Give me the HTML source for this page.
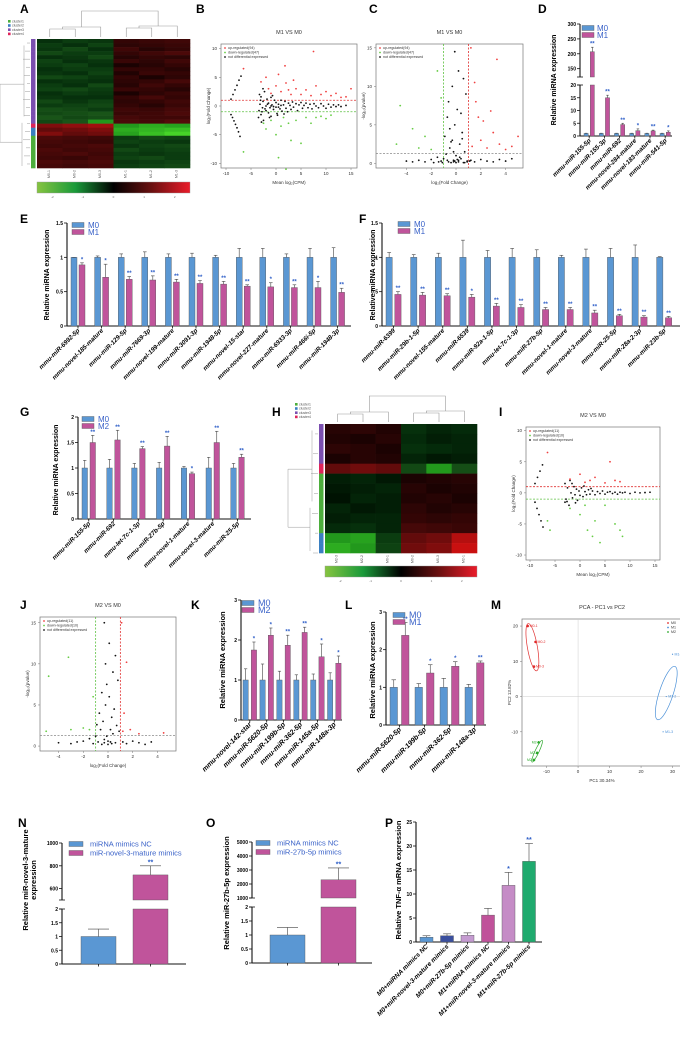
<!DOCTYPE html>
<html><head><meta charset="utf-8"><style>
html,body{margin:0;padding:0;background:#fff;}
svg{display:block;}
</style></head><body>
<svg id="fig" width="680" height="1043" viewBox="0 0 680 1043" xmlns="http://www.w3.org/2000/svg">
<defs>
<linearGradient id="hmGrad" x1="0" x2="1" y1="0" y2="0">
<stop offset="0" stop-color="#86c440"/><stop offset="0.25" stop-color="#1a9a3a"/><stop offset="0.5" stop-color="#000"/><stop offset="0.75" stop-color="#6a1010"/><stop offset="1" stop-color="#ea1c2a"/>
</linearGradient>
</defs>
</svg>
<script>
// ---------------- DATA ----------------
const D_labels=["mmu-miR-155-5p","mmu-miR-155-3p","mmu-miR-692","mmu-novel-284-mature","mmu-novel-183-mature","mmu-miR-541-5p"];
const D_M0=[1,1,1,1,1,1];
const D_M0err=[1.1,1.1,1.1,1.1,1.1,1.1];
const D_M1=[207,15,4.5,2.1,2.0,1.5];
const D_M1err=[222,16,5,2.8,2.3,2.0];
const D_stars=["**","**","**","*","**","*"];

const E_labels=["mmu-miR-6992-5p","mmu-novel-185-mature","mmu-miR-129-5p","mmu-miR-7669-3p","mmu-novel-199-mature","mmu-miR-3091-3p","mmu-miR-1948-5p","mmu-novel-15-star","mmu-novel-227-mature","mmu-miR-6933-3p","mmu-miR-466i-5p","mmu-miR-1948-3p"];
const E_M0=[1,1,1,1,1,1,1,1,1,1,1,1];
const E_M0err=[1.0,1.02,1.05,1.08,1.05,1.06,1.03,1.13,1.13,1.05,1.13,1.14];
const E_M1=[0.89,0.71,0.68,0.67,0.64,0.62,0.61,0.58,0.57,0.56,0.56,0.49];
const E_M1err=[0.92,0.9,0.72,0.73,0.68,0.66,0.65,0.6,0.63,0.6,0.65,0.55];
const E_stars=["*","*","**","**","**","**","**","**","*","**","*","**"];

const F_labels=["mmu-miR-6399","mmu-miR-29b-1-5p","mmu-novel-155-mature","mmu-miR-6539","mmu-miR-92a-1-5p","mmu-let-7c-1-3p","mmu-miR-27b-5p","mmu-novel-1-mature","mmu-novel-3-mature","mmu-miR-25-5p","mmu-miR-28a-2-3p","mmu-miR-23b-5p"];
const F_M0=[1,1,1,1,1,1,1,1,1,1,1,1];
const F_M0err=[1.07,1.04,1.06,1.25,1.1,1.13,1.11,1.03,1.12,1.13,1.18,1.01];
const F_M1=[0.46,0.45,0.44,0.42,0.29,0.27,0.24,0.24,0.19,0.15,0.13,0.12];
const F_M1err=[0.5,0.49,0.47,0.46,0.33,0.31,0.27,0.27,0.23,0.17,0.15,0.14];
const F_stars=["**","**","**","*","**","**","**","**","**","**","**","**"];

const G_labels=["mmu-miR-155-5p","mmu-miR-692","mmu-let-7c-1-3p","mmu-miR-27b-5p","mmu-novel-1-mature","mmu-novel-3-mature","mmu-miR-25-5p"];
const G_M0=[1,1,1,1,1,1,1];
const G_M0err=[1.15,1.17,1.09,1.11,1.03,1.21,1.09];
const G_M2=[1.5,1.55,1.38,1.43,0.89,1.5,1.21];
const G_M2err=[1.64,1.74,1.42,1.62,0.92,1.72,1.27];
const G_stars=["**","**","**","**","*","**","**"];

const K_labels=["mmu-novel-142-star","mmu-miR-5620-5p","mmu-miR-199b-5p","mmu-miR-362-5p","mmu-miR-145a-5p","mmu-miR-148a-3p"];
const K_M0=[1,1,1,1,1,1];
const K_M0err=[1.28,1.4,1.22,1.13,1.15,1.18];
const K_M2=[1.75,2.12,1.87,2.19,1.58,1.42];
const K_M2err=[1.95,2.3,2.12,2.32,1.9,1.6];
const K_stars=["*","*","**","**","*","*"];

const L_labels=["mmu-miR-5620-5p","mmu-miR-199b-5p","mmu-miR-362-5p","mmu-miR-148a-3p"];
const L_M0=[1,1,1,1];
const L_M0err=[1.2,1.1,1.24,1.08];
const L_M1=[2.38,1.38,1.56,1.65];
const L_M1err=[2.72,1.6,1.68,1.7];
const L_stars=["**","*","*","**"];

const N_vals=[1.0,720];
const N_errs=[1.27,800];
const O_vals=[1.0,2300];
const O_errs=[1.27,3150];

const P_labels=["M0+miRNA mimics NC","M0+miR-novel-3-mature mimics","M0+miR-27b-5p mimics","M1+miRNA mimics NC","M1+miR-novel-3-mature mimics","M1+miR-27b-5p mimics"];
const P_vals=[1.0,1.3,1.4,5.6,11.8,16.8];
const P_errs=[1.3,1.7,1.9,7.0,14.5,20.5];
const P_stars=["","","","","*","**"];
const P_colors=["#5a97d3","#3a4f9e","#c49ad0","#c0529a","#c58cc6","#1faa6e"];

const A_rows=[
[-0.3,-0.4,-0.35,0.3,0.35,0.4],[-0.4,-0.3,-0.45,0.25,0.3,0.35],[-0.35,-0.5,-0.3,0.4,0.2,0.3],[-0.5,-0.4,-0.4,0.3,0.4,0.5],
[-0.3,-0.35,-0.5,0.2,0.3,0.25],[-0.45,-0.3,-0.35,0.35,0.25,0.4],[-0.4,-0.45,-0.3,0.1,0.2,0.3],[-0.3,-0.4,-0.4,0.3,0.3,0.2],
[-0.35,-0.3,-0.45,0.15,0.35,0.3],[-0.5,-0.45,-0.35,0.3,0.1,0.25],[-0.3,-0.35,-0.3,0.25,0.3,0.45],[-0.4,-0.3,-0.5,0.2,0.4,0.3],
[-0.45,-0.5,-0.4,0.35,0.3,0.2],[-0.3,-0.4,-0.35,0.1,0.25,0.35],[-0.35,-0.3,-0.3,0.3,0.45,0.3],[-0.5,-0.35,-0.45,0.25,0.3,0.4],
[-0.4,-0.45,-0.5,0.3,0.2,0.35],[-0.55,-0.5,-0.4,0.4,0.35,0.45],[-0.5,-0.55,-0.6,0.35,0.4,0.5],[-0.6,-0.5,-0.55,0.45,0.4,0.4],
[-0.5,-0.6,-0.7,0.5,0.45,0.55],
[0.7,0.75,0.8,-0.7,-0.8,-0.75],
[0.6,0.65,0.7,-0.8,-0.85,-0.9],[0.7,0.6,0.65,-0.75,-0.9,-1.0],
[0.5,0.45,0.4,-0.4,-0.5,-0.45],[0.45,0.4,0.35,-0.45,-0.4,-0.35],[0.4,0.45,0.5,-0.35,-0.45,-0.5],[0.5,0.4,0.45,-0.5,-0.4,-0.45],
[0.45,0.5,0.4,-0.4,-0.35,-0.4],[0.4,0.35,0.45,-0.45,-0.5,-0.4],[0.5,0.45,0.5,-0.35,-0.4,-0.45],[0.45,0.4,0.45,-0.4,-0.45,-0.5]
];
const A_clusters=[3,3,3,3,3,3,3,3,3,3,3,3,3,3,3,3,3,3,3,3,3,4,2,2,1,1,1,1,1,1,1,1];
const H_rows=[
[0.2,0.25,0.15,-0.3,-0.2,-0.25],[0.15,0.1,0.2,-0.25,-0.15,-0.2],[0.25,0.2,0.1,-0.3,-0.25,-0.2],[0.1,0.2,0.15,-0.2,-0.1,-0.15],
[0.6,0.65,0.6,-0.5,-0.7,-0.55],
[-0.15,-0.2,-0.1,0.1,0.15,0.2],[-0.1,-0.15,-0.2,0.2,0.1,0.15],[-0.05,-0.2,-0.15,0.15,0.2,0.1],[-0.2,-0.1,-0.15,0.25,0.15,0.2],
[-0.15,-0.2,-0.2,0.3,0.25,0.3],[-0.25,-0.3,-0.2,0.45,0.4,0.35],
[-0.7,-0.75,-0.4,0.6,0.65,0.85],[-0.8,-0.7,-0.45,0.65,0.7,0.9]
];
const H_clusters=[3,3,3,3,4,1,1,1,1,1,1,2,2];

const B_black="-9,-1.5 -8.7,-2 -8.4,-2.6 -8.1,-3.2 -7.8,-3.8 -7.5,-4.5 -7.2,-5.3 -9,1.2 -8.6,2 -8.2,2.8 -7.8,3.6 -7.4,4.5 -7,5.2 -3.5,-2 -3.3,2 -3,-1.5 -3,1.6 -2.8,-1 -2.6,0.8 -2.5,-2.5 -2.3,2.5 -2,0 -2,-0.8 -1.8,1.2 -1.5,-1.2 -1.5,0.5 -1.2,-0.3 -1,1.5 -1,-1.8 -0.8,0.2 -0.5,-0.6 -0.3,1 0,-0.2 0,0.6 0.2,-1.3 0.5,0.3 0.8,-0.5 1,1 1.2,-0.9 1.5,0.2 1.8,0.8 2,-0.4 2.3,-1 2.5,0.5 2.8,0.1 3,-0.6 3.3,0.7 3.5,-0.2 4,0.4 4.3,-0.8 4.6,0.2 5,0.6 5.3,-0.4 5.6,0.1 6,0.5 6.4,-0.3 6.8,0.3 7.2,-0.5 7.6,0.4 8,0 8.5,-0.3 9,0.4 9.5,0 10,-0.4 10.5,0.3 11,-0.2 11.5,0.2 12,-0.1 12.5,0.2 13,-0.1 14,0.1 -1,0 -0.5,-0.1 0.5,-0.2 1,0.1 -2.2,-0.5 -1.7,0.3 -3.2,0.3 -2.7,-0.3 -3.4,-0.8 -3.1,1 -2.9,-2.8 -2.6,3 -1.3,-2 -0.7,1.8 0.3,-1.6 1.6,-1.4";
const B_red="-6.5,6.5 -3,4.2 -2,5 -1.5,3 0,3.5 0.5,5.5 1,2.5 1.8,7 2,4 3,2 3.5,4.5 4,3 5,2 6,2.8 7,1.8 7.5,9.5 8,3.5 9,2 10,2.5 11,1.8 12,2.2 13,1.5 14,1.6 15,3 -1,2.2 2.5,2.8";
const B_green="-6.5,-8 -2.5,-3 -1,-2.5 0,-5 0.5,-9 1,-3.5 1.5,-2 2,-11 2.5,-3 3,-6 4,-2.5 5,-6.5 6,-2 7,-3 8,-2 9,-1.8 10,-2.2 11,-1.6 -2,-4";
const C_black="-4,0.3 -3.5,0.2 -3,0.4 -2.5,0.2 -2,0.5 -1.8,0.1 -1.5,0.8 -1.2,0.3 -1,0.6 -0.8,1.2 -0.6,0.2 -0.5,2 -0.4,0.1 -0.3,3 -0.2,0.4 -0.1,5 0,0.1 0.1,7 0.2,0.2 0.3,2.5 0.4,0.6 0.5,4 0.6,0.1 0.7,1.5 0.8,9 0.9,0.3 -0.9,3.5 -0.7,6 -0.3,10 0.2,12 -0.1,14.5 0.6,11 0.4,6.5 -0.5,4.5 0,1 0.3,0.8 -0.2,1.5 1.2,0.4 1.5,0.2 2,0.5 2.5,0.3 3,0.2 3.5,0.5 4,0.3 4.5,0.6 -0.6,8 0.5,3.2 -0.4,2.8 0.1,0.5 -0.1,0.3 0.7,0.1 -0.7,0.4 -1.4,0.2 -1.1,0.1 0.9,0.2 1.1,0.3 -0.2,0.2 0.2,0.4";
const C_red="1.2,15 1.5,10.5 1.8,6 2,3 2.2,5.5 2.5,2 3,4 3.3,13.5 3.5,2.5 4,1.8 4.5,2.2 5,3.5 1.3,2.2 2.8,6.8 1.6,8";
const C_green="-4.5,7.5 -4.8,2.5 -3,2 -2.5,3.5 -1.5,12 -2,1.8 -1.2,8.5 -3.5,4.5";
const I_black="-9,-1.5 -8.6,-2.5 -8.2,-3.5 -7.8,-4.5 -7.4,-5.5 -9,1.5 -8.5,2.5 -8,3.5 -7.5,4.5 -3,-1.5 -3,1.5 -2.8,-1 -2.5,0.8 -2.2,-2 -2,2 -1.8,0 -1.5,-0.8 -1.2,1 -1,-0.3 -0.7,0.6 -0.5,-1.2 -0.2,0.3 0,-0.4 0.3,0.8 0.6,-0.6 1,0.2 1.3,-0.3 1.7,0.5 2,-0.2 2.5,0.3 3,-0.3 3.5,0.2 4,-0.1 4.5,0.3 5,-0.2 5.5,0.1 6,0.2 6.5,-0.1 7,0.1 7.5,-0.2 8,0.1 8.5,0 9,0.1 10,-0.1 11,0.1 12,0 13,0.05 14,0.1 -1.6,1.5 -2.6,-1.4 0.8,1.1 -0.9,-1.6 2.2,0.7";
const I_red="-6.5,6.5 -2,2.2 0,3 1,1.7 2,2 3,2.5 5,1.6 6,5 7,2 8,1.8";
const I_green="-6.5,-4.5 -6,-6 -2,-2.5 0,-3.5 1,-2 1.5,-6 2.5,-7 3,-4.5 4,-8 7,-5 8,-6 8.5,-7 5,-2";
const J_black="-4,0.4 -3,0.3 -2.5,0.5 -2,0.6 -1.5,0.9 -1.2,0.3 -1,1.2 -0.8,0.5 -0.6,2 -0.5,0.2 -0.4,3 -0.3,0.8 -0.2,5 -0.1,1.2 0,0.2 0.1,6 0.2,0.5 0.3,3.5 0.4,1.5 0.5,4.5 0.6,0.4 0.7,2.5 0.8,8 -0.7,4 -0.5,6.5 -0.2,10 0.1,12.5 -0.3,15 0.4,9 0.6,11 -0.1,7.5 1.2,0.5 1.5,0.3 2,0.6 2.5,0.4 3,0.2 3.5,0.5 0,0.6 0.3,0.3 -0.3,0.4 -0.9,2.6 0.9,1.8 0.2,2";
const J_red="1.2,1.8 1.5,10.2 1.8,2 2.5,1.5 4.5,1.6 1.1,15 1.3,4";
const J_green="-5,1.8 -4.8,8.5 -3,2 -3.2,10.8 -2,2.2 -1.5,2 -1.2,6";
const M_M0="-16,20 -13.5,15.5 -14,8.5";
const M_M1="30,12 28,0 27,-10";
const M_M2="-12.5,-13 -13,-16 -14,-18";

// ---------------- HELPERS ----------------
const NS="http://www.w3.org/2000/svg";
const S=document.getElementById('fig');
const FONT="'Liberation Sans', sans-serif";
function mk(tag,a,name,parent){
  const e=document.createElementNS(NS,tag);
  for(const k in a) e.setAttribute(k,a[k]);
  
  
  (parent||S).appendChild(e);
  return e;
}
function txt(x,y,s,a,name,parent){
  const e=mk('text',Object.assign({x:x,y:y,'font-family':FONT},a||{}),name,parent);
  e.textContent=s;
  return e;
}
function pairs(str){return str.trim().split(/\s+/).map(p=>p.split(',').map(Number));}
function panelLabel(x,y,s){txt(x,y,s,{'font-size':12,'font-weight':'bold'},'panel-label-'+s.toLowerCase());}

function bars(o){
  const g=mk('g',{},o.name);
  const segs=o.segs;
  function Y(v){
    let s=segs[segs.length-1];
    for(const sg of segs){ if(v<=sg.v1){s=sg;break;} }
    const vv=Math.max(v,s.v0);
    return s.p0+(vv-s.v0)/(s.v1-s.v0)*(s.p1-s.p0);
  }
  const base=segs[0].p0;
  segs.forEach((s,si)=>{
    mk('line',{x1:o.x0,x2:o.x0,y1:s.p0,y2:s.p1,stroke:'#111','stroke-width':1.1},'y-axis-segment',g);
    if(si>0){ mk('line',{x1:o.x0-3,x2:o.x0+3,y1:s.p0,y2:s.p0,stroke:'#111','stroke-width':0.8},'axis-break-mark',g); }
    if(si<segs.length-1){ mk('line',{x1:o.x0-3,x2:o.x0+3,y1:s.p1,y2:s.p1,stroke:'#111','stroke-width':0.8},'axis-break-mark',g); }
    s.ticks.forEach(t=>{
      const y=Y(t);
      mk('line',{x1:o.x0-3,x2:o.x0,y1:y,y2:y,stroke:'#111','stroke-width':0.8},'y-tick',g);
      txt(o.x0-4,y+2,String(t),{'font-size':o.tickSize||5,'font-weight':'bold','text-anchor':'end'},'y-tick-label',g);
    });
  });
  mk('line',{x1:o.x0,x2:o.x1,y1:base,y2:base,stroke:'#111','stroke-width':1.1},'x-axis',g);
  const n=o.series[0].vals.length;
  for(let i=0;i<n;i++){
    const gs=o.x0+o.pad+i*o.gw;
    let lastCx=0, topErr=0;
    const gw2=o.series.length*o.bw+(o.series.length-1)*o.gap;
    o.series.forEach((sr,j)=>{
      const bx=gs+j*(o.bw+o.gap);
      const col=Array.isArray(sr.color)?sr.color[i]:sr.color;
      const v=sr.vals[i];
      segs.forEach((s,si)=>{
        const lo=si===0?0:s.v0;
        const hi=Math.min(v,s.v1);
        if(hi>lo){
          const y1=Y(hi), y2=(si===0?base:s.p0);
          mk('rect',{x:bx,y:y1,width:o.bw,height:Math.max(0,y2-y1),fill:col,stroke:'#555','stroke-width':0.4},'bar-'+sr.key+'-'+i,g);
        }
      });
      const cx=bx+o.bw/2, e=sr.errs[i];
      mk('line',{x1:cx,x2:cx,y1:Y(v),y2:Y(e),stroke:'#444','stroke-width':0.6},'error-bar',g);
      mk('line',{x1:cx-o.bw*0.3,x2:cx+o.bw*0.3,y1:Y(e),y2:Y(e),stroke:'#444','stroke-width':0.6},'error-cap',g);
      lastCx=cx; topErr=e;
    });
    const gc=gs+gw2/2;
    mk('line',{x1:gc,x2:gc,y1:base,y2:base+2.5,stroke:'#111','stroke-width':0.8},'x-tick',g);
    if(o.stars && o.stars[i]){
      txt(lastCx,Y(topErr)-1.5,o.stars[i],{'font-size':o.starSize||6,'font-weight':'bold','fill':'#2f5fc8','text-anchor':'middle'},'significance-star',g);
    }
    if(o.labels){
      const lx=gc+2, ly=base+5;
      txt(lx,ly,o.labels[i],{'font-size':o.labelSize||6,'font-weight':'bold','font-style':'italic','text-anchor':'end',transform:'rotate(-45 '+lx+' '+ly+')'},'x-category-label',g);
    }
  }
  if(o.yTitle){
    o.yTitle.forEach((line,k)=>{
      const tx=o.yTitleX+k*o.yTitleSize*1.05, ty=o.yTitleY;
      txt(tx,ty,line,{'font-size':o.yTitleSize,'font-weight':'bold','text-anchor':'middle',transform:'rotate(-90 '+tx+' '+ty+')'},'y-axis-title',g);
    });
  }
  if(o.legend){
    const L=o.legend;
    L.names.forEach((nm,k)=>{
      const y=L.y+k*L.dy;
      mk('rect',{x:L.x,y:y-L.h/2,width:L.w,height:L.h,fill:L.colors[k],stroke:'#555','stroke-width':0.4},'legend-swatch-'+k,g);
      txt(L.x+L.w+L.gap,y+L.fs*0.35,nm,{'font-size':L.fs,'fill':'#3a62c8'},'legend-entry',g);
    });
  }
}

const BLUE="#5a97d3", MAG="#c0549b";

function scatter(o){
  const g=mk('g',{},o.name);
  const X=v=>o.bx0+(v-o.xr[0])/(o.xr[1]-o.xr[0])*(o.bx1-o.bx0);
  const Y=v=>o.by1-(v-o.yr[0])/(o.yr[1]-o.yr[0])*(o.by1-o.by0);
  mk('rect',{x:o.bx0,y:o.by0,width:o.bx1-o.bx0,height:o.by1-o.by0,fill:'#fff',stroke:'#777','stroke-width':0.7},'plot-frame',g);
  (o.hlines||[]).forEach(h=>mk('line',{x1:o.bx0,x2:o.bx1,y1:Y(h.v),y2:Y(h.v),stroke:h.c,'stroke-width':h.w||0.8,'stroke-dasharray':h.d||'2,1.5'},'threshold-line',g));
  (o.vlines||[]).forEach(h=>mk('line',{x1:X(h.v),x2:X(h.v),y1:o.by0,y2:o.by1,stroke:h.c,'stroke-width':h.w||0.8,'stroke-dasharray':h.d||'2,1.5'},'threshold-line',g));
  o.xticks.forEach(t=>{
    mk('line',{x1:X(t),x2:X(t),y1:o.by1,y2:o.by1+2,stroke:'#777','stroke-width':0.5},'x-tick',g);
    txt(X(t),o.by1+7,String(t),{'font-size':4.5,'fill':'#333','text-anchor':'middle'},'x-tick-label',g);
  });
  o.yticks.forEach(t=>{
    mk('line',{x1:o.bx0-2,x2:o.bx0,y1:Y(t),y2:Y(t),stroke:'#777','stroke-width':0.5},'y-tick',g);
    txt(o.bx0-4,Y(t)+1.5,String(t),{'font-size':4.5,'fill':'#333','text-anchor':'end'},'y-tick-label',g);
  });
  o.series.forEach(s=>{
    pairs(s.data).forEach(p=>{
      mk('circle',{cx:X(p[0]),cy:Y(p[1]),r:s.r||0.9,fill:s.c},'point-'+s.key,g);
    });
  });
  txt((o.bx0+o.bx1)/2,o.by0-10,o.title,{'font-size':5.5,'fill':'#333','text-anchor':'middle'},'chart-title',g);
  txt((o.bx0+o.bx1)/2,o.by1+16,o.xlabel,{'font-size':4.5,'fill':'#333','text-anchor':'middle'},'x-axis-title',g);
  const yx=o.bx0-11, yy=(o.by0+o.by1)/2;
  txt(yx,yy,o.ylabel,{'font-size':4.5,'fill':'#333','text-anchor':'middle',transform:'rotate(-90 '+yx+' '+yy+')'},'y-axis-title',g);
  if(o.legend){
    o.legend.forEach((l,k)=>{
      const ly=o.by0+5+k*4.5;
      mk('circle',{cx:o.lx,cy:ly-1,r:0.9,fill:l.c},'legend-dot',g);
      txt(o.lx+3,ly,l.t,{'font-size':3.6,'fill':'#333'},'legend-entry',g);
    });
  }
  return {X,Y,g};
}

function hcol(v){
  if(v>=0){const r=Math.round(15+v*Math.max(120,v*230)), gg=Math.round(v*18); return 'rgb('+r+','+gg+','+gg+')';}
  const a=-v; return 'rgb('+Math.round(a*a*70)+','+Math.round(12+a*(a>0.6?200:120))+','+Math.round(a*40)+')';
}
const CL={1:'#4cae3c',2:'#3a7fc1',3:'#7b4fb0',4:'#e0245a'};
function heatmap(o){
  const g=mk('g',{},o.name);
  const rh=(o.y1-o.y0)/o.rows.length, cw=(o.x1-o.x0)/6;
  o.rows.forEach((r,i)=>{
    r.forEach((v,j)=>{
      mk('rect',{x:o.x0+j*cw,y:o.y0+i*rh,width:cw+0.3,height:rh+0.3,fill:hcol(v)},'heatmap-cell',g);
    });
    mk('rect',{x:o.cbx,y:o.y0+i*rh,width:4.5,height:rh+0.3,fill:CL[o.clusters[i]]},'cluster-bar',g);
  });
  mk('rect',{x:o.x0,y:o.cby,width:o.x1-o.x0,height:11,fill:'url(#hmGrad)',stroke:'#999','stroke-width':0.4},'color-scale-bar',g);
  o.cols.forEach((c,j)=>{
    const tx=o.x0+(j+0.5)*cw, ty=o.y1+6;
    txt(tx,ty,c,{'font-size':3.5,'fill':'#555','text-anchor':'middle',transform:'rotate(-90 '+tx+' '+ty+')'},'sample-label',g);
  });
  const cx=j=>o.x0+(j+0.5)*cw, t=o.y0;
  const p='M'+cx(0)+' '+(t-2)+'V'+(t-10)+'H'+cx(1)+'V'+(t-2)+' M'+((cx(0)+cx(1))/2)+' '+(t-10)+'V'+(t-12)+'H'+cx(2)+'V'+(t-2)+
   ' M'+cx(3)+' '+(t-2)+'V'+(t-11)+'H'+cx(4)+'V'+(t-2)+' M'+((cx(3)+cx(4))/2)+' '+(t-11)+'V'+(t-13)+'H'+cx(5)+'V'+(t-2)+
   ' M'+((cx(0)+cx(1))/2+cx(2))/2+' '+(t-12)+'V'+(t-28)+'H'+(((cx(3)+cx(4))/2+cx(5))/2)+'V'+(t-13);
  mk('path',{d:p,fill:'none',stroke:'#999','stroke-width':0.6},'column-dendrogram',g);
  const lx=o.cbx-1, h=o.y1-o.y0;
  let lp='';
  for(let i=0;i<o.rows.length;i+=2){const y=o.y0+(i+1)*rh; lp+='M'+lx+' '+y+'H'+(lx-3-(i%5));}
  lp+='M'+(lx-6)+' '+(o.y0+h*0.05)+'V'+(o.y0+h*0.6)+'M'+(lx-8)+' '+(o.y0+h*0.65)+'V'+(o.y1-2)+
      'M'+(lx-6)+' '+(o.y0+h*0.35)+'H'+(lx-o.dw)+'V'+(o.y0+h*0.8)+'H'+(lx-8);
  mk('path',{d:lp,fill:'none',stroke:'#999','stroke-width':0.5},'row-dendrogram',g);
  ['cluster1','cluster2','cluster3','cluster4'].forEach((c,k)=>{
    mk('rect',{x:o.lgx,y:o.lgy+k*4.2,width:2.6,height:2.6,fill:CL[k+1]},'legend-swatch',g);
    txt(o.lgx+4,o.lgy+k*4.2+2.5,c,{'font-size':3.4,'fill':'#555'},'legend-entry',g);
  });
  [-2,-1,0,1,2].forEach((t,k)=>{
    txt(o.x0+(k+0.5)*(o.x1-o.x0)/5,o.cby+16,String(t),{'font-size':3,'fill':'#666','text-anchor':'middle'},'color-scale-tick',g);
  });
}

// ================= BUILD =================
panelLabel(20,13,'A');
heatmap({name:'heatmap-a',x0:37,x1:190,y0:39,y1:168,rows:A_rows,clusters:A_clusters,cbx:31,cby:182,
  cols:['M0-1','M0-2','M0-3','M1-1','M1-2','M1-3'],dw:30,lgx:8,lgy:20});

panelLabel(196,13,'B');
scatter({name:'ma-plot-b',bx0:221,bx1:357,by0:44,by1:168,xr:[-11,16.2],yr:[-10.8,10.8],
  xticks:[-10,-5,0,5,10,15],yticks:[-10,-5,0,5,10],title:'M1 VS M0',xlabel:'Mean log\u2082(CPM)',ylabel:'log\u2082(Fold Change)',
  hlines:[{v:1,c:'#e03030'},{v:-1,c:'#5cc040'}],
  series:[{key:'ns',data:B_black,c:'#111'},{key:'up',data:B_red,c:'#f04040'},{key:'down',data:B_green,c:'#66cc44'}],
  lx:225,legend:[{t:'up-regulated(94)',c:'#f04040'},{t:'down-regulated(47)',c:'#66cc44'},{t:'not differential expressed',c:'#111'}]});

panelLabel(369,13,'C');
scatter({name:'volcano-plot-c',bx0:376,bx1:523,by0:44,by1:168,xr:[-6.45,5.4],yr:[-0.6,15.5],
  xticks:[-4,-2,0,2,4],yticks:[0,5,10,15],title:'M1 VS M0',xlabel:'log\u2082(Fold Change)',ylabel:'-log\u2081\u2080(pvalue)',
  vlines:[{v:-1,c:'#5cc040'},{v:1,c:'#e03030'}],hlines:[{v:1.3,c:'#888'}],
  series:[{key:'ns',data:C_black,c:'#111'},{key:'up',data:C_red,c:'#f04040'},{key:'down',data:C_green,c:'#66cc44'}],
  lx:380,legend:[{t:'up-regulated(94)',c:'#f04040'},{t:'down-regulated(47)',c:'#66cc44'},{t:'not differential expressed',c:'#111'}]});

panelLabel(538,13,'D');
bars({name:'bar-chart-d',x0:580,x1:672,pad:4,gw:15.2,bw:4.2,gap:2,
  segs:[{v0:0,v1:20,p0:136,p1:85,ticks:[0,5,10,15,20]},{v0:122,v1:300,p0:77,p1:24,ticks:[150,200,250,300]}],
  series:[{key:'m0',vals:D_M0,errs:D_M0err,color:BLUE},{key:'m1',vals:D_M1,errs:D_M1err,color:MAG}],
  stars:D_stars,labels:D_labels,labelSize:6.3,yTitle:['Relative miRNA expression'],yTitleX:556,yTitleY:80,yTitleSize:7,
  legend:{x:582,y:28,dy:7,w:12,h:5,gap:3,fs:8,names:['M0','M1'],colors:[BLUE,MAG]}});

panelLabel(20,223,'E');
bars({name:'bar-chart-e',x0:67,x1:351,pad:4,gw:23.6,bw:6,gap:2,
  segs:[{v0:0,v1:1.5,p0:326,p1:223,ticks:[0.0,0.5,1.0,1.5]}],
  series:[{key:'m0',vals:E_M0,errs:E_M0err,color:BLUE},{key:'m1',vals:E_M1,errs:E_M1err,color:MAG}],
  stars:E_stars,labels:E_labels,labelSize:6.3,yTitle:['Relative miRNA expression'],yTitleX:49,yTitleY:275,yTitleSize:7,
  legend:{x:72,y:225,dy:7,w:12,h:5,gap:4,fs:8,names:['M0','M1'],colors:[BLUE,MAG]}});

panelLabel(359,223,'F');
bars({name:'bar-chart-f',x0:382,x1:680,pad:4,gw:24.6,bw:6.3,gap:2.5,
  segs:[{v0:0,v1:1.5,p0:326,p1:223,ticks:[0.0,0.5,1.0,1.5]}],
  series:[{key:'m0',vals:F_M0,errs:F_M0err,color:BLUE},{key:'m1',vals:F_M1,errs:F_M1err,color:MAG}],
  stars:F_stars,labels:F_labels,labelSize:6.3,yTitle:['Relative miRNA expression'],yTitleX:375,yTitleY:275,yTitleSize:7,
  legend:{x:398,y:224,dy:7,w:12,h:5,gap:4,fs:8,names:['M0','M1'],colors:[BLUE,MAG]}});

panelLabel(20,416,'G');
bars({name:'bar-chart-g',x0:78,x1:251,pad:4,gw:24.8,bw:5.5,gap:2.5,
  segs:[{v0:0,v1:2,p0:519,p1:417,ticks:[0.0,0.5,1.0,1.5,2.0]}],
  series:[{key:'m0',vals:G_M0,errs:G_M0err,color:BLUE},{key:'m2',vals:G_M2,errs:G_M2err,color:MAG}],
  stars:G_stars,labels:G_labels,labelSize:6.3,yTitle:['Relative miRNA expression'],yTitleX:58,yTitleY:470,yTitleSize:7,
  legend:{x:82,y:419,dy:7,w:12,h:5,gap:4,fs:8,names:['M0','M2'],colors:[BLUE,MAG]}});

panelLabel(272,416,'H');
heatmap({name:'heatmap-h',x0:325,x1:477,y0:424,y1:553,rows:H_rows,clusters:H_clusters,cbx:319,cby:566,
  cols:['M2-3','M2-2','M0-1','M0-2','M0-3','M2-1'],dw:30,lgx:295,lgy:403});

panelLabel(499,416,'I');
scatter({name:'ma-plot-i',bx0:526,bx1:660,by0:427,by1:560,xr:[-10.8,16],yr:[-10.8,10.6],
  xticks:[-10,-5,0,5,10,15],yticks:[-10,-5,0,5,10],title:'M2 VS M0',xlabel:'Mean log\u2082(CPM)',ylabel:'log\u2082(Fold Change)',
  hlines:[{v:1,c:'#e03030'},{v:-1,c:'#5cc040'}],
  series:[{key:'ns',data:I_black,c:'#111'},{key:'up',data:I_red,c:'#f04040'},{key:'down',data:I_green,c:'#66cc44'}],
  lx:530,legend:[{t:'up-regulated(11)',c:'#f04040'},{t:'down-regulated(10)',c:'#66cc44'},{t:'not differential expressed',c:'#111'}]});

panelLabel(20,609,'J');
scatter({name:'volcano-plot-j',bx0:40,bx1:176,by0:617,by1:751,xr:[-5.5,5.5],yr:[-0.6,15.7],
  xticks:[-4,-2,0,2,4],yticks:[0,5,10,15],title:'M2 VS M0',xlabel:'log\u2082(Fold Change)',ylabel:'-log\u2081\u2080(pvalue)',
  vlines:[{v:-1,c:'#5cc040'},{v:1,c:'#e03030'}],hlines:[{v:1.3,c:'#888'}],
  series:[{key:'ns',data:J_black,c:'#111'},{key:'up',data:J_red,c:'#f04040'},{key:'down',data:J_green,c:'#66cc44'}],
  lx:44,legend:[{t:'up-regulated(11)',c:'#f04040'},{t:'down-regulated(10)',c:'#66cc44'},{t:'not differential expressed',c:'#111'}]});

panelLabel(191,609,'K');
bars({name:'bar-chart-k',x0:241,x1:342,pad:2,gw:16.9,bw:5.3,gap:3,
  segs:[{v0:0,v1:3,p0:720,p1:600,ticks:[0,1,2,3]}],
  series:[{key:'m0',vals:K_M0,errs:K_M0err,color:BLUE},{key:'m2',vals:K_M2,errs:K_M2err,color:MAG}],
  stars:K_stars,labels:K_labels,labelSize:7,yTitle:['Relative miRNA expression'],yTitleX:225,yTitleY:660,yTitleSize:7.5,
  legend:{x:242,y:603,dy:7,w:12,h:5,gap:4,fs:9,names:['M0','M2'],colors:[BLUE,MAG]}});

panelLabel(345,609,'L');
bars({name:'bar-chart-l',x0:386,x1:486,pad:4,gw:25,bw:7.5,gap:4,
  segs:[{v0:0,v1:3,p0:725,p1:612,ticks:[0,1,2,3]}],
  series:[{key:'m0',vals:L_M0,errs:L_M0err,color:BLUE},{key:'m1',vals:L_M1,errs:L_M1err,color:MAG}],
  stars:L_stars,labels:L_labels,labelSize:7,yTitle:['Relative miRNA expression'],yTitleX:375,yTitleY:670,yTitleSize:7.5,
  legend:{x:393,y:615,dy:7,w:12,h:5,gap:4,fs:9,names:['M0','M1'],colors:[BLUE,MAG]}});

panelLabel(491,609,'M');
(function(){
  const sc=scatter({name:'pca-plot-m',bx0:522,bx1:682,by0:619,by1:766,xr:[-17.8,33],yr:[-19.7,22],
    xticks:[-10,0,10,20,30],yticks:[-10,0,10,20],title:'PCA - PC1 vs PC2',xlabel:'PC1 30.34%',ylabel:'PC2 13.82%',
    hlines:[{v:0,c:'#ccc',d:'none',w:0.5}],vlines:[{v:0,c:'#ccc',d:'none',w:0.5}],
    series:[{key:'m0',data:M_M0,c:'#e02828',r:1.3},{key:'m1',data:M_M1,c:'#4a90d8',r:0.6},{key:'m2',data:M_M2,c:'#2aa82a',r:1.3}],
    lx:668,legend:[{t:'M0',c:'#e02828'},{t:'M1',c:'#4a90d8'},{t:'M2',c:'#2aa82a'}]});
  const ell=(cx,cy,rx,ry,rot,c,nm)=>mk('ellipse',{cx:sc.X(cx),cy:sc.Y(cy),rx:rx,ry:ry,transform:'rotate('+rot+' '+sc.X(cx)+' '+sc.Y(cy)+')',fill:'none',stroke:c,'stroke-width':0.7},nm,sc.g);
  ell(-14.5,14,5,24,-10,'#e03030','ellipse-m0');
  ell(28,1,7,28,18,'#4a90d8','ellipse-m1');
  ell(-13,-15.5,2,12,25,'#2aa82a','ellipse-m2');
  const lab=(s,x,y,c)=>txt(sc.X(x)+2,sc.Y(y)+1,s,{'font-size':3.5,'fill':c},'point-label',sc.g);
  pairs(M_M0).forEach((p,k)=>lab('M0-'+(k+1),p[0],p[1],'#e02828'));
  pairs(M_M1).forEach((p,k)=>lab('M1-'+(k+1),p[0],p[1],'#4a90d8'));
  pairs(M_M2).forEach((p,k)=>txt(sc.X(p[0])-7,sc.Y(p[1])+1,'M2-'+(k+1),{'font-size':3.5,'fill':'#2aa82a'},'point-label',sc.g));
})();

panelLabel(18,827,'N');
bars({name:'bar-chart-n',x0:62,x1:186,pad:19,gw:52,bw:35,gap:0,
  segs:[{v0:0,v1:2,p0:964,p1:909,ticks:[0.0,0.5,1.0,1.5,2.0]},{v0:500,v1:1000,p0:900,p1:843,ticks:[600,800,1000]}],
  series:[{key:'value',vals:N_vals,errs:N_errs,color:[BLUE,MAG]}],
  stars:['','**'],yTitle:['Relative miR-novel-3-mature','expression'],yTitleX:28,yTitleY:880,yTitleSize:7.5,tickSize:5,starSize:7,
  legend:{x:69,y:844,dy:9,w:14,h:5,gap:7,fs:7.5,names:['miRNA mimics NC','miR-novel-3-mature mimics'],colors:[BLUE,MAG]}});

panelLabel(206,827,'O');
bars({name:'bar-chart-o',x0:252,x1:372,pad:18,gw:51,bw:35,gap:0,
  segs:[{v0:0,v1:2,p0:963,p1:907,ticks:[0.0,0.5,1.0,1.5,2.0]},{v0:1000,v1:5000,p0:898,p1:842,ticks:[1000,2000,3000,4000,5000]}],
  series:[{key:'value',vals:O_vals,errs:O_errs,color:[BLUE,MAG]}],
  stars:['','**'],yTitle:['Relative miR-27b-5p expression'],yTitleX:229,yTitleY:893,yTitleSize:7.5,tickSize:5,starSize:7,
  legend:{x:256,y:843,dy:9,w:14,h:5,gap:7,fs:7.5,names:['miRNA mimics NC','miR-27b-5p mimics'],colors:[BLUE,MAG]}});

panelLabel(385,827,'P');
bars({name:'bar-chart-p',x0:416,x1:542,pad:4,gw:20.5,bw:13,gap:0,
  segs:[{v0:0,v1:25,p0:942,p1:822,ticks:[0,5,10,15,20,25]}],
  series:[{key:'tnf',vals:P_vals,errs:P_errs,color:P_colors}],
  stars:P_stars,labels:P_labels,labelSize:6.5,yTitle:['Relative TNF-\u03b1 mRNA expression'],yTitleX:401,yTitleY:880,yTitleSize:7.5,tickSize:5,starSize:7});
</script>
</body></html>
